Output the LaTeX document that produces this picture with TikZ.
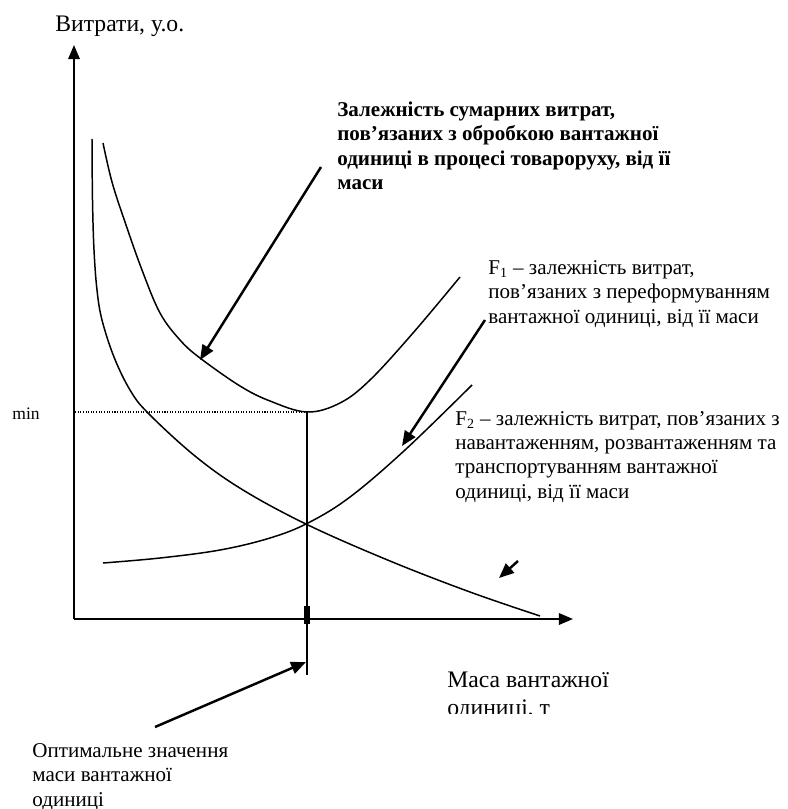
\documentclass[tikz,border=0pt]{standalone}
\usepackage{fontspec}
\setmainfont{Liberation Serif}
\usetikzlibrary{arrows.meta}
\begin{document}
\begin{tikzpicture}[x=0.57pt,y=-0.57pt,
  axis/.style={line width=1.1pt,-{Triangle[length=8pt,width=6.5pt]}},
  curve/.style={line width=0.85pt},
  pointer/.style={line width=1.4pt,-{Triangle[length=8.5pt,width=7pt]}},
  % multi-line labels are placed by the baseline of their last line
  lbl/.style={inner sep=0pt,anchor=base west,align=left,font=\fontsize{12}{13.8}\selectfont},
]
\useasboundingbox (0,0) rectangle (787,809);

% axes
\coordinate (O) at (74,619);
\coordinate (ytip) at (74,45);
\coordinate (xtip) at (573,619);
\draw[axis] (O) -- (ytip);
\draw[axis] (O) -- (xtip);
\node[lbl,font=\fontsize{13.5}{15.5}\selectfont] (ylabel) at (55,32) {Витрати, у.о.};

% total cost curve (U-shaped)
\draw[curve] plot[smooth,tension=0.6] coordinates {
  (103,143) (112,182) (125,222) (142,270) (160,313) (180,340) (200,358)
  (240,386) (270,401) (307,412) (340,403) (370,380) (413,333) (460,277)};

% decreasing curve
\draw[curve] plot[smooth,tension=0.6] coordinates {
  (92,139) (92.5,200) (94,250) (97,290) (102,320) (114,357) (130,390)
  (148,413) (195,456) (243,490) (308,525) (390,561) (470,592) (540,616)};

% increasing curve
\draw[curve] plot[smooth,tension=0.6] coordinates {
  (103,563) (160,558) (220,550) (270,538) (308,523) (350,497) (405,450) (472,385)};

% optimum
\coordinate (umin) at (307,412);
\coordinate (minlvl) at (75,412);
\coordinate (foot) at (307,675);
\draw[line width=0.6pt,dash pattern=on 0.6pt off 0.9pt] (minlvl) -- (umin);
\draw[curve] (umin) -- (foot);
\fill (304,606) rectangle (310,624);
\node[inner sep=0pt,anchor=base east,font=\fontsize{10}{12}\selectfont] (minlbl) at (40,419) {min};

% pointers
\coordinate (a1s) at (321,167); \coordinate (a1e) at (200,360);
\coordinate (a2s) at (485,320); \coordinate (a2e) at (402,446);
\coordinate (a3s) at (518,561); \coordinate (a3e) at (499,578);
\coordinate (a4s) at (155,727); \coordinate (a4e) at (306,662);
\draw[pointer] (a1s) -- (a1e);
\draw[pointer] (a2s) -- (a2e);
\draw[pointer] (a3s) -- (a3e);
\draw[pointer] (a4s) -- (a4e);

% texts
\node[lbl,font=\fontsize{12}{14}\selectfont\bfseries] (total) at (337,190)
  {Залежність сумарних витрат,\\пов’язаних з обробкою вантажної\\одиниці в процесі товароруху, від її\\маси};
\node[lbl] (f1) at (488,323)
  {F\textsubscript{1} – залежність витрат,\\пов’язаних з переформуванням\\вантажної одиниці, від її маси};
\node[lbl] (f2) at (455,498)
  {F\textsubscript{2} – залежність витрат, пов’язаних з\\навантаженням, розвантаженням та\\транспортуванням вантажної\\одиниці, від її маси};
\begin{scope}
  \clip (440,660) rectangle (720,713);
  \node[lbl,font=\fontsize{13.5}{15.5}\selectfont] (xlabel) at (447,715) {Маса вантажної\\одиниці, т};
\end{scope}
\node[lbl] (opt) at (32,806)
  {Оптимальне значення\\маси вантажної\\одиниці};
\end{tikzpicture}
\end{document}
